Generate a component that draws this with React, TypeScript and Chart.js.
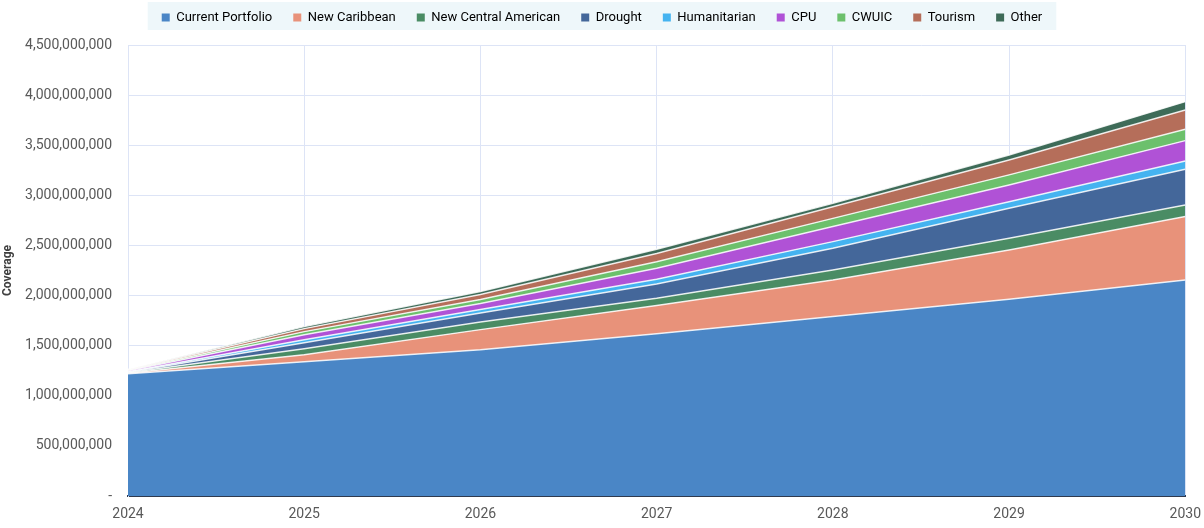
import React, { useEffect, useRef } from "react";
import { Chart, registerables } from "chart.js";

Chart.register(...registerables);

const years = ["2024", "2025", "2026", "2027", "2028", "2029", "2030"];

const currentPortfolio = [1220000000, 1340000000, 1460000000, 1620000000, 1790000000, 1963000000, 2156000000];
const newCaribbean = [5000000, 70000000, 200000000, 280000000, 366000000, 492000000, 632000000];
const newCentralAmerican = [5000000, 60000000, 77000000, 73000000, 99000000, 117000000, 116000000];
const drought = [5000000, 60000000, 90000000, 143000000, 217000000, 299000000, 356000000];
const humanitarian = [5000000, 30000000, 33000000, 47000000, 66000000, 66000000, 83000000];
const cpu = [10000000, 50000000, 60000000, 109000000, 150000000, 167000000, 203000000];
const cwuic = [5000000, 30000000, 40000000, 66000000, 82000000, 100000000, 114000000];
const tourism = [5000000, 30000000, 50000000, 82000000, 117000000, 149000000, 192000000];
const other = [2000000, 20000000, 30000000, 42000000, 33000000, 50000000, 83000000];

const seriesNames = [
  "Current Portfolio",
  "New Caribbean",
  "New Central American",
  "Drought",
  "Humanitarian",
  "CPU",
  "CWUIC",
  "Tourism",
  "Other",
];
const seriesData = [
  currentPortfolio,
  newCaribbean,
  newCentralAmerican,
  drought,
  humanitarian,
  cpu,
  cwuic,
  tourism,
  other,
];
const seriesColors = [
  "#4a86c6",
  "#e8927a",
  "#4a8c64",
  "#44679a",
  "#45b3f0",
  "#b052d6",
  "#6cc06c",
  "#b56e5a",
  "#3e6b58",
];

const legendBg = {
  id: "legendBg",
  beforeDraw(chart: any) {
    const lg = chart.legend;
    if (!lg) return;
    lg.top = -10;
    if (!lg.legendHitBoxes || !lg.legendHitBoxes.length) return;
    const boxes = lg.legendHitBoxes;
    let l = Infinity, r = -Infinity;
    boxes.forEach((b: any) => {
      l = Math.min(l, b.left);
      r = Math.max(r, b.left + b.width);
    });
    const ctx = chart.ctx;
    ctx.save();
    ctx.fillStyle = "#eef7fa";
    ctx.fillRect(l - 14, 2, r - l + 28, 28);
    ctx.restore();
  },
};

export default function App() {
  const ref = useRef<HTMLCanvasElement>(null);
  useEffect(() => {
    document.body.style.margin = "0";
    if (!ref.current) return;
    Chart.defaults.font.family = "Roboto, 'Noto Sans', sans-serif";
    const chart = new Chart(ref.current, {
      type: "line",
      data: {
        labels: years,
        datasets: seriesNames.map((name, i) => ({
          label: name,
          data: seriesData[i],
          backgroundColor: seriesColors[i],
          borderColor: "rgba(255,255,255,0.85)",
          borderWidth: 1.5,
          pointRadius: 0,
          tension: 0,
          fill: i === 0 ? "origin" : "-1",
        })),
      },
      options: {
        animation: false,
        responsive: false,
        maintainAspectRatio: false,
        layout: { padding: { left: 0, right: 0, top: 0, bottom: 0 } },
        plugins: {
          tooltip: { enabled: false },
          legend: {
            position: "top",
            labels: {
              boxWidth: 8,
              boxHeight: 8,
              padding: 21,
              color: "#404040",
              font: { size: 13 },
              generateLabels: (chart: any) =>
                chart.data.datasets.map((ds: any, i: number) => ({
                  text: ds.label,
                  fillStyle: seriesColors[i],
                  strokeStyle: seriesColors[i],
                  lineWidth: 0,
                  hidden: false,
                  datasetIndex: i,
                })),
            },
          },
        },
        scales: {
          x: {
            grid: { color: "#dde4f6", drawTicks: true, tickLength: 7, tickColor: "rgba(0,0,0,0)" },
            border: { color: "#2f3a4f", width: 2 },
            ticks: { color: "#595959", font: { size: 14 }, padding: 3, maxRotation: 0 },
            afterFit: (scale: any) => {
              scale.height = 32;
            },
          },
          y: {
            stacked: true,
            min: 0,
            max: 4500000000,
            grid: { color: "#dde4f6", drawTicks: false },
            border: { color: "#dde4f6" },
            title: {
              display: true,
              text: "Coverage",
              color: "#404040",
              font: { size: 12, weight: "bold" },
              padding: 1,
            },
            ticks: {
              stepSize: 500000000,
              color: "#595959",
              font: { size: 14 },
              padding: 16,
              callback: (v: any) => (Number(v) === 0 ? "-" : Number(v).toLocaleString("en-US")),
            },
            afterFit: (scale: any) => {
              scale.width = 128;
            },
          },
        },
      },
      plugins: [legendBg],
    } as any);
    const lg: any = chart.legend;
    if (lg) {
      const origFit = lg.fit.bind(lg);
      lg.fit = function () {
        origFit();
        this.height = 45;
      };
      chart.update();
    }
    return () => chart.destroy();
  }, []);
  return <canvas ref={ref} width={1204} height={528} style={{ display: "block" }} />;
}
